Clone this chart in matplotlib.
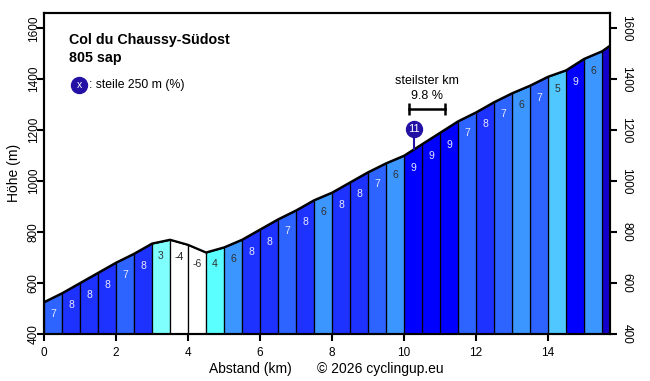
import numpy as np
import matplotlib.pyplot as plt

plt.rcParams['font.family'] = ['Liberation Sans', 'DejaVu Sans']

# profile (km, m)
dist_km = [0.0, 0.5, 1.0, 1.5, 2.0, 2.5, 3.0, 3.5, 4.0, 4.5, 5.0, 5.5, 6.0, 6.5,
           7.0, 7.5, 8.0, 8.5, 9.0, 9.5, 10.0, 10.5, 11.0, 11.5, 12.0, 12.5,
           13.0, 13.5, 14.0, 14.5, 15.0, 15.5, 15.72]
elev_m = [525, 560, 600, 640, 680, 715, 755, 770, 750, 720, 740, 770, 810, 850,
          885, 925, 955, 995, 1035, 1070, 1100, 1145, 1190, 1235, 1270, 1310,
          1345, 1375, 1410, 1435, 1480, 1510, 1532]

# average grade per 500 m segment, as printed
grades = [7, 8, 8, 8, 7, 8, 3, -4, -6, 4, 6, 8, 8, 7, 8, 6, 8, 8, 7, 6,
          9, 9, 9, 7, 8, 7, 6, 7, 5, 9, 6, 10]
show_label = [True] * 31 + [False]

grade_colors = {
    -6: "#ffffff", -4: "#ffffff", 3: "#80ffff", 4: "#5affff", 5: "#50c8ff",
    6: "#3c96ff", 7: "#2d64ff", 8: "#1e32ff", 9: "#0000ff", 10: "#1400cc",
}
label_colors = {
    -6: "#303030", -4: "#202020", 3: "#303030", 4: "#303030", 5: "#303030",
    6: "#303030", 7: "#e8e8ff", 8: "#e8e8ff", 9: "#e8e8ff", 10: "#e8e8ff",
}

title = "Col du Chaussy-Südost"
subtitle = "805 sap"

steep_250_km = 10.28
steep_250_elev = 1203
steep_250_label = "11"

steep_km_start = 10.14
steep_km_end = 11.14
steep_km_value = "9.8 %"

fig = plt.figure(figsize=(6.5, 3.81), dpi=100)
ax = fig.add_axes([44 / 650, 1 - 334 / 381, 566 / 650, 321 / 381])

ymin, ymax = 400, 1660
for i, g in enumerate(grades):
    x0, x1 = dist_km[i], dist_km[i + 1]
    e0, e1 = elev_m[i], elev_m[i + 1]
    ax.fill_between([x0, x1], [e0, e1], ymin, color=grade_colors[g],
                    edgecolor="black", linewidth=0.9)
    if show_label[i]:
        ax.annotate(str(g), xy=((x0 + x1) / 2, min(e0, e1)), xytext=(0, -12),
                    textcoords="offset pixels", ha="center", va="center",
                    fontsize=7.5, color=label_colors[g])

ax.plot(dist_km, elev_m, color="black", lw=1.6, solid_capstyle="butt")

# steepest 250 m marker
stem_end = np.interp(steep_250_km, dist_km, elev_m)
ax.plot([steep_250_km, steep_250_km], [steep_250_elev - 30, stem_end],
        color="#2311a6", lw=1.5)
ax.plot(steep_250_km, steep_250_elev, "o", ms=11.5, color="#2311a6")
ax.text(steep_250_km, steep_250_elev, steep_250_label, color="white",
        fontsize=8, ha="center", va="center")

# steepest km bracket
ax.plot([steep_km_start, steep_km_end], [1282, 1282], color="black", lw=1.8,
        marker="|", ms=8, mew=1.8)
mid = (steep_km_start + steep_km_end) / 2
ax.text(mid, 1333, steep_km_value, fontsize=9, ha="center", va="center")
ax.text(mid, 1392, "steilster km", fontsize=9, ha="center", va="center")

# title block and legend
ax.text(0.044, 0.916, title, transform=ax.transAxes, fontsize=10.3,
        fontweight="bold", va="center")
ax.text(0.044, 0.86, subtitle, transform=ax.transAxes, fontsize=10.3,
        fontweight="bold", va="center")
ax.plot(0.062, 0.776, "o", ms=11.5, color="#2311a6", transform=ax.transAxes)
ax.text(0.062, 0.776, "x", color="white", fontsize=7.5, ha="center",
        va="center", transform=ax.transAxes)
ax.text(0.079, 0.776, ": steile 250 m (%)", fontsize=8.8, va="center",
        transform=ax.transAxes)

ax.set_xlim(0, dist_km[-1])
ax.set_ylim(ymin, ymax)
ax.set_xticks(range(0, 16, 2))
ax.set_yticks(range(400, 1601, 200))
for s in ax.spines.values():
    s.set_linewidth(1.5)
ax.tick_params(direction="out", length=5, width=1.5, labelsize=8.5)
ax.tick_params(axis="x", pad=4)
ax.tick_params(axis="y", labelrotation=90, pad=-2)
for lbl in ax.get_yticklabels():
    lbl.set_va("center")

# right-hand elevation axis, labels read top to bottom
ax2 = ax.twinx()
ax2.set_ylim(ymin, ymax)
ax2.set_yticks(range(400, 1601, 200))
ax2.tick_params(direction="out", length=5, width=1.5, labelsize=8.5,
                labelrotation=-90, pad=2.5)
for lbl in ax2.get_yticklabels():
    lbl.set_va("center")
for s in ax2.spines.values():
    s.set_linewidth(1.5)

fig.text(14 / 650, 1 - 173 / 381, "Höhe (m)", rotation=90, fontsize=10,
         ha="center", va="center")
fig.text(250 / 650, 1 - 369 / 381, "Abstand (km)", fontsize=10,
         ha="center", va="center")
fig.text(380 / 650, 1 - 369 / 381, "© 2026 cyclingup.eu", fontsize=10,
         ha="center", va="center")

fig.savefig("out.png", dpi=100)
